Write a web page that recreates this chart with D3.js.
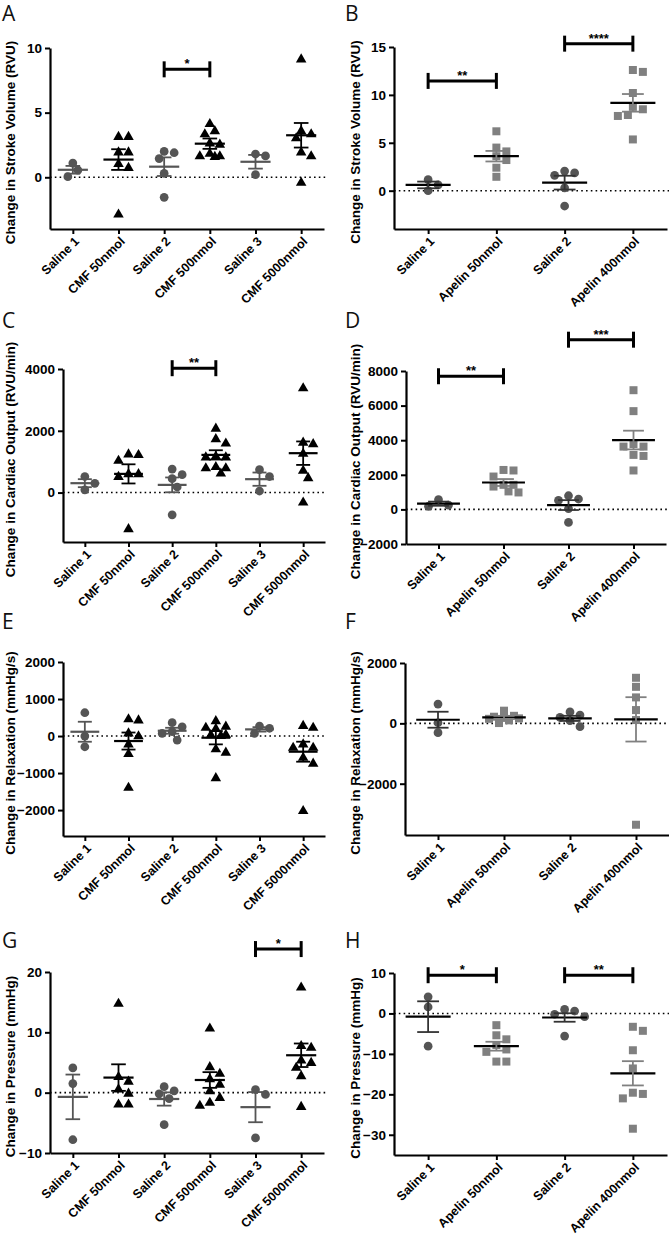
<!DOCTYPE html>
<html><head><meta charset="utf-8">
<script src="https://cdn.jsdelivr.net/npm/d3@7"></script>
<style>
body{margin:0;background:#fff;}
svg{display:block;}
</style></head>
<body>
<svg id="chart" width="669" height="1244"></svg>
<script>
// ---------- categories ----------
const catsCMF = ["Saline 1","CMF 50nmol","Saline 2","CMF 500nmol","Saline 3","CMF 5000nmol"];
const catsApelin = ["Saline 1","Apelin 50nmol","Saline 2","Apelin 400nmol"];
const kindsCMF = ["saline","cmf","saline","cmf","saline","cmf"];
const kindsApelin = ["saline","apelin","saline","apelin"];

// ---------- A: stroke volume (CMF) ----------
const aVals = [[1.1,0.55,0.05],[3.2,3.2,2.0,2.0,1.1,0.8,-2.8],[2.0,1.9,1.45,0.3,-1.55],
  [4.2,3.65,3.4,2.7,2.6,1.9,1.7,1.7,1.65],[1.8,1.65,0.2],[9.2,3.65,3.4,3.1,2.0,1.7,-0.35]];
const aMean = [0.58,1.37,0.82,2.6,1.2,3.25];
const aSem = [0.3,0.8,0.72,0.4,0.53,0.95];
const aTicks = [0,5,10];
const aSig = [[2,3,8.35,"*"]];

// ---------- B: stroke volume (Apelin) ----------
const bVals = [[1.15,0.6,0.0],[6.2,4.5,4.1,3.6,3.2,2.4,1.45],[2.05,1.85,1.6,0.3,-1.6],
  [12.6,12.4,10.2,8.75,8.5,7.9,7.8,5.35]];
const bMean = [0.6,3.6,0.84,9.17];
const bSem = [0.35,0.55,0.72,0.92];
const bTicks = [0,5,10,15];
const bSig = [[0,1,11.46,"**"],[2,3,15.35,"****"]];

// ---------- C: cardiac output (CMF) ----------
const cVals = [[520,300,90],[1270,1060,1250,630,540,630,-1150],[580,450,760,180,-720],
  [2100,1620,1760,1170,1170,820,650,820,860,1200],[740,520,50],[3410,1650,1600,1290,740,500,-290]];
const cMean = [304,605,249,1220,434,1275];
const cSem = [130,310,240,150,215,380];
const cTicks = [0,2000,4000];
const cSig = [[2,3,4026,"**"]];

// ---------- D: cardiac output (Apelin) ----------
const dVals = [[560,250,180],[2250,2280,1900,1420,1320,1420,980,1040],[790,600,520,50,-750],
  [6890,5680,3780,3630,3630,3150,3090,2250]];
const dMean = [330,1554,250,4010];
const dSem = [120,200,285,540];
const dTicks = [-2000,0,2000,4000,6000,8000];
const dSig = [[0,1,7697,"**"],[2,3,9810,"***"]];

// ---------- E: relaxation (CMF) ----------
const eVals = [[630,0,-290],[480,450,20,100,-200,-460,-1370],[360,250,120,70,-110],
  [430,280,250,220,60,50,30,-330,-420,-1110],[270,70,210],[300,250,-200,-290,-290,-560,-720,-2000]];
const eMean = [116,-135,143,-45,180,-423];
const eSem = [270,230,80,180,60,270];
const eTicks = [-2000,-1000,0,1000,2000];
const eSig = [];

// ---------- F: relaxation (Apelin) ----------
const fVals = [[640,20,-310],[420,250,220,180,165,150,100,10],[380,275,200,90,-110],
  [1510,1210,860,440,110,-3360]];
const fMean = [120,199,165,132];
const fSem = [265,50,85,735];
const fTicks = [-2000,0,2000];
const fSig = [];

// ---------- G: pressure (CMF) ----------
const gVals = [[4.1,1.5,-7.8],[14.9,2.75,2.0,0.7,0,-1.8,-1.8],[1.0,0.3,-0.2,-1.0,-5.3],
  [10.8,4.4,3.3,2.4,1.5,0.4,-0.7,-1.5,-2.0],[0.5,-0.3,-7.5],[17.6,7.9,7.6,5.5,5.1,4.3,2.9,-2.2]];
const gMean = [-0.7,2.5,-1.05,2.1,-2.4,6.2];
const gSem = [3.7,2.2,1.1,1.3,2.5,1.95];
const gTicks = [-10,0,10,20];
const gSig = [[4,5,23.8,"*"]];

// ---------- H: pressure (Apelin) ----------
const hVals = [[4.1,1.6,-8.1],[-2.9,-5.4,-6.4,-7.8,-9.5,-8.9,-11.9,-11.9],[1.0,0.6,-0.2,-0.8,-5.6],
  [-3.3,-4.3,-9.1,-13.6,-19.6,-19.9,-21,-28.5]];
const hMean = [-0.8,-8.1,-1.0,-14.8];
const hSem = [3.8,1.1,1.05,3.0];
const hTicks = [-30,-20,-10,0,10];
const hSig = [[0,1,9.45,"*"],[2,3,9.45,"**"]];

// ---------- styles ----------
const COL = {saline:"#555555", cmf:"#000000", apelin:"#808080"};
const SHAPE = {saline:d3.symbolCircle, cmf:d3.symbolTriangle, apelin:d3.symbolSquare};
const SIZE = {saline:60, cmf:48, apelin:64};
const FONT = "Arial, 'Liberation Sans', sans-serif";

const svg = d3.select("#chart");

const panels = [
  {letter:"A", cats:catsCMF, kinds:kindsCMF, vals:aVals, mean:aMean, sem:aSem, ticks:aTicks, sig:aSig,
   domain:[-4,10], left:50, right:324, top:48, bottom:229, titleX:10, lx:2, ly:21,
   title:"Change in Stroke Volume (RVU)"},
  {letter:"B", cats:catsApelin, kinds:kindsApelin, vals:bVals, mean:bMean, sem:bSem, ticks:bTicks, sig:bSig,
   domain:[-4,15], left:394, right:667, top:47, bottom:229, titleX:355, lx:345, ly:21,
   title:"Change in Stroke Volume (RVU)"},
  {letter:"C", cats:catsCMF, kinds:kindsCMF, vals:cVals, mean:cMean, sem:cSem, ticks:cTicks, sig:cSig,
   domain:[-1600,4000], left:63, right:325, top:369, bottom:542, titleX:10, lx:2, ly:328,
   title:"Change in Cardiac Output (RVU/min)"},
  {letter:"D", cats:catsApelin, kinds:kindsApelin, vals:dVals, mean:dMean, sem:dSem, ticks:dTicks, sig:dSig,
   domain:[-2000,8000], left:406, right:666, top:371, bottom:544, titleX:355, lx:345, ly:328,
   title:"Change in Cardiac Output (RVU/min)"},
  {letter:"E", cats:catsCMF, kinds:kindsCMF, vals:eVals, mean:eMean, sem:eSem, ticks:eTicks, sig:eSig,
   domain:[-2700,2000], left:63, right:325, top:662, bottom:836, titleX:10, lx:2, ly:629,
   title:"Change in Relaxation (mmHg/s)"},
  {letter:"F", cats:catsApelin, kinds:kindsApelin, vals:fVals, mean:fMean, sem:fSem, ticks:fTicks, sig:fSig,
   domain:[-3700,2000], left:405, right:669, top:663, bottom:835, titleX:355, lx:345, ly:629,
   title:"Change in Relaxation (mmHg/s)"},
  {letter:"G", cats:catsCMF, kinds:kindsCMF, vals:gVals, mean:gMean, sem:gSem, ticks:gTicks, sig:gSig,
   domain:[-10,20], left:50, right:324, top:972, bottom:1153, titleX:10, lx:2, ly:948,
   title:"Change in Pressure (mmHg)"},
  {letter:"H", cats:catsApelin, kinds:kindsApelin, vals:hVals, mean:hMean, sem:hSem, ticks:hTicks, sig:hSig,
   domain:[-35,10], left:394, right:667, top:973, bottom:1155, titleX:355, lx:345, ly:948,
   title:"Change in Pressure (mmHg)"}
];

// deterministic swarm layout (no randomness): closest free offset within a cap
function swarm(values, yScale, minDist, step, cap){
  const order = values.map((v,i)=>({v,i,y:yScale(v)})).sort((a,b)=>a.y-b.y);
  const placed = [];
  const out = new Array(values.length);
  const cands = [0];
  for(let k=1; k*step<=cap; k++){ cands.push(k*step, -k*step); }
  for(const p of order){
    let best = null, bestD = -1;
    for(const off of cands){
      const d = placed.length ? Math.min(...placed.map(q=>Math.hypot(q.x-off, q.y-p.y))) : Infinity;
      if(d >= minDist){ best = off; bestD = Infinity; break; }
      if(d > bestD){ bestD = d; best = off; }
    }
    placed.push({x:best, y:p.y});
    out[p.i] = best;
  }
  return out;
}

panels.forEach(P => {
  const g = svg.append("g");
  const x = d3.scalePoint().domain(P.cats).range([P.left, P.right]).padding(0.5);
  const y = d3.scaleLinear().domain(P.domain).range([P.bottom, P.top]);
  const step = x.step();

  svg.append("text").attr("x",P.lx).attr("y",P.ly).text(P.letter)
    .attr("font-family","'Open Sans', sans-serif").attr("font-size",21).attr("fill","#111");

  svg.append("text")
    .attr("transform",`translate(${P.titleX},${(P.top+P.bottom)/2+4}) rotate(-90)`)
    .attr("text-anchor","middle").attr("dominant-baseline","central")
    .attr("font-family",FONT).attr("font-weight","bold").attr("font-size",13.5)
    .text(P.title);

  g.append("line").attr("x1",P.left).attr("x2",P.right+2)
    .attr("y1",y(0)).attr("y2",y(0))
    .attr("stroke","#000").attr("stroke-width",1.6).attr("stroke-dasharray","1.6,3.2");

  const ya = g.append("g").attr("transform",`translate(${P.left},0)`)
    .call(d3.axisLeft(y).tickValues(P.ticks).tickSize(5).tickSizeOuter(0).tickFormat(d3.format("d")));
  ya.select(".domain").attr("stroke-width",2.2);
  ya.selectAll(".tick line").attr("stroke-width",2);
  ya.selectAll(".tick text").attr("font-family",FONT).attr("font-weight","bold")
    .attr("font-size",13.5).attr("fill","#000").attr("x",-8);

  const xa = g.append("g").attr("transform",`translate(0,${P.bottom})`)
    .call(d3.axisBottom(x).tickSize(5).tickSizeOuter(0).tickFormat(""));
  xa.select(".domain").attr("stroke-width",2.2);
  xa.selectAll(".tick line").attr("stroke-width",2);
  g.selectAll(".xlab").data(P.cats).enter().append("text")
    .attr("transform",d=>`translate(${x(d)+4},${P.bottom+10}) rotate(-45)`)
    .attr("text-anchor","end").attr("dy","0.35em")
    .attr("font-family",FONT).attr("font-weight","bold").attr("font-size",12.5)
    .text(d=>d);

  P.cats.forEach((c,i)=>{
    const kind = P.kinds[i];
    const offs = swarm(P.vals[i], y, 8.6, 5, step*0.3);
    g.selectAll(null).data(P.vals[i]).enter().append("path")
      .attr("d", d3.symbol(SHAPE[kind], SIZE[kind]))
      .attr("transform",(d,j)=>`translate(${x(c)+offs[j]},${y(d)+(kind==="cmf"?1:0)})`)
      .attr("fill",COL[kind]);
  });

  P.cats.forEach((c,i)=>{
    const kind = P.kinds[i];
    const cx = x(c);
    const meanCol = (P.cats.length===4) ? "#000" : COL[kind];
    const errCol = (P.cats.length===4) ? (kind==="saline" ? "#333" : "#808080") : COL[kind];
    const mw = step*0.33, cw = step*0.16;
    const m = P.mean[i], s = P.sem[i];
    g.append("line").attr("x1",cx-mw).attr("x2",cx+mw).attr("y1",y(m)).attr("y2",y(m))
      .attr("stroke",meanCol).attr("stroke-width",2.2);
    g.append("line").attr("x1",cx).attr("x2",cx).attr("y1",y(m+s)).attr("y2",y(m-s))
      .attr("stroke",errCol).attr("stroke-width",1.8);
    [m+s, m-s].forEach(v=>{
      g.append("line").attr("x1",cx-cw).attr("x2",cx+cw).attr("y1",y(v)).attr("y2",y(v))
        .attr("stroke",errCol).attr("stroke-width",1.8);
    });
  });

  P.sig.forEach(sg=>{
    const x1 = x(P.cats[sg[0]]), x2 = x(P.cats[sg[1]]), yy = y(sg[2]);
    g.append("line").attr("x1",x1).attr("x2",x2).attr("y1",yy).attr("y2",yy)
      .attr("stroke","#000").attr("stroke-width",3);
    [x1,x2].forEach(xx=>{
      g.append("line").attr("x1",xx).attr("x2",xx).attr("y1",yy-8).attr("y2",yy+8)
        .attr("stroke","#000").attr("stroke-width",3);
    });
    g.append("text").attr("x",(x1+x2)/2).attr("y",yy-1).attr("text-anchor","middle")
      .attr("font-family",FONT).attr("font-size",13).attr("font-weight","bold").text(sg[3]);
  });
});
</script>
</body></html>
